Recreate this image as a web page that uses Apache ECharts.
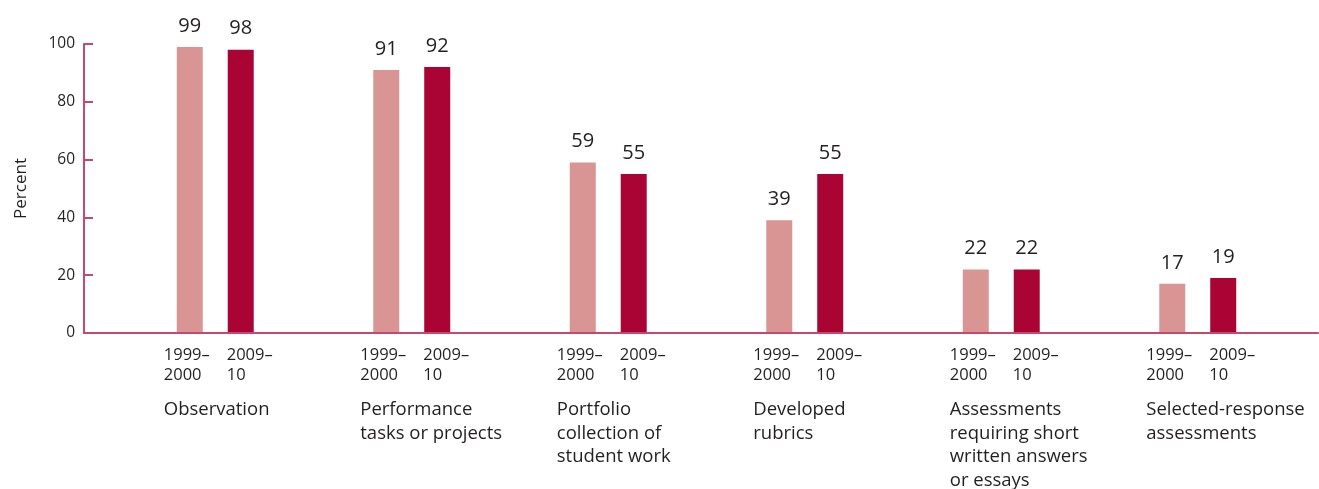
<!DOCTYPE html>
<html>
<head>
<meta charset="utf-8">
<script src="https://cdn.jsdelivr.net/npm/echarts@6/dist/echarts.min.js"></script>
<style>html,body{margin:0;padding:0;background:#fff}#c{width:1319px;height:489px}</style>
</head>
<body>
<div id="c"></div>
<script>
var categories = ['Observation', 'Performance\ntasks or projects', 'Portfolio\ncollection of\nstudent work', 'Developed\nrubrics', 'Assessments\nrequiring short\nwritten answers\nor essays', 'Selected-response\nassessments'];
var years = ['1999\u2013\n2000', '2009\u2013\n10'];
var values1999 = [99, 91, 59, 39, 22, 17];
var values2009 = [98, 92, 55, 55, 22, 19];
var yTicks = [0, 20, 40, 60, 80, 100];

var FONT = 'Open Sans';
var TXT = '#231f20';
var AXIS = '#c44a6c';
var zeros = categories.map(function(){ return 0; });

function yearSeries(stack, idx, offX) {
  return {
    type: 'bar', xAxisIndex: 0, yAxisIndex: 0, stack: stack, barWidth: 26, barGap: '96%',
    data: zeros, itemStyle: { color: 'transparent' }, silent: true,
    label: { show: true, position: 'bottom', distance: 13, align: 'left', offset: [offX, 0],
      formatter: function(){ return years[idx]; },
      fontFamily: FONT, fontSize: 16.5, lineHeight: 19.5, color: TXT }
  };
}

var option = {
  animation: false,
  grid: [
    { left: 117, right: 23, top: 44, bottom: 156 },
    { left: 84, right: 1, top: 44, bottom: 156 }
  ],
  xAxis: [
    { type: 'category', gridIndex: 0, data: categories, show: false },
    { type: 'value', gridIndex: 1, min: 0, max: 1, z: 10,
      axisLine: { show: true, lineStyle: { color: AXIS, width: 2 } },
      axisTick: { show: false }, axisLabel: { show: false }, splitLine: { show: false } }
  ],
  yAxis: [
    { type: 'value', gridIndex: 0, min: 0, max: 100, interval: 20, show: false },
    { type: 'value', gridIndex: 1, min: 0, max: 100, interval: 20, z: 10,
      name: 'Percent', nameLocation: 'middle', nameGap: 54, nameRotate: 90,
      nameTextStyle: { fontFamily: FONT, fontSize: 17, color: TXT },
      axisLine: { show: true, lineStyle: { color: AXIS, width: 2 } },
      axisTick: { show: true, inside: true, length: 9, lineStyle: { color: AXIS, width: 2 } },
      axisLabel: { margin: 9, fontFamily: FONT, fontSize: 15.5, color: TXT,
        formatter: function(v){ return yTicks.indexOf(v) >= 0 ? String(v) : ''; } },
      splitLine: { show: false } }
  ],
  series: [
    yearSeries('a', 0, -26),
    {
      type: 'bar', xAxisIndex: 0, yAxisIndex: 0, stack: 'a', barWidth: 26, barGap: '96%',
      data: zeros, itemStyle: { color: 'transparent' }, silent: true,
      label: { show: true, position: 'bottom', distance: 65, align: 'left', offset: [-26, 0],
        formatter: function(p){ return categories[p.dataIndex]; },
        fontFamily: FONT, fontSize: 18.5, lineHeight: 23.5, color: TXT }
    },
    {
      type: 'bar', xAxisIndex: 0, yAxisIndex: 0, stack: 'a', barWidth: 26, barGap: '96%',
      data: values1999, itemStyle: { color: '#d99593' },
      label: { show: true, position: 'top', distance: 11, fontFamily: FONT, fontSize: 20, color: TXT }
    },
    yearSeries('b', 1, -14),
    {
      type: 'bar', xAxisIndex: 0, yAxisIndex: 0, stack: 'b', barWidth: 26, barGap: '96%',
      data: values2009, itemStyle: { color: '#a90433' },
      label: { show: true, position: 'top', distance: 11, fontFamily: FONT, fontSize: 20, color: TXT }
    }
  ]
};
var chart = echarts.init(document.getElementById('c'), null, { renderer: 'canvas' });
chart.setOption(option);
</script>
</body>
</html>
